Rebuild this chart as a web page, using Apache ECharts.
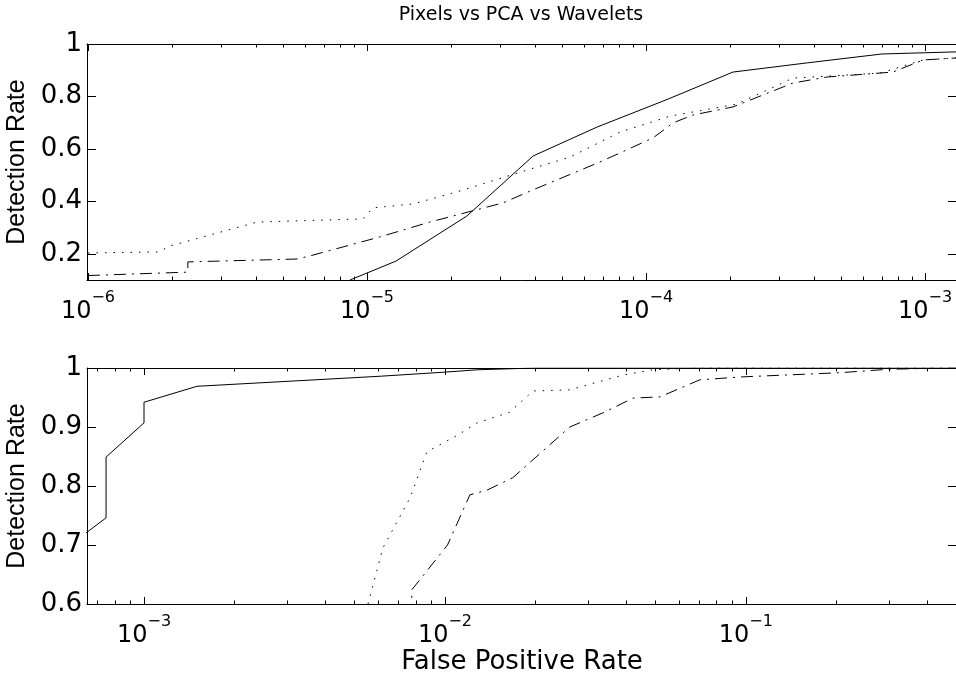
<!DOCTYPE html>
<html>
<head>
<meta charset="utf-8">
<script src="https://cdn.jsdelivr.net/npm/echarts@6/dist/echarts.min.js"></script>
<style>
html,body{margin:0;padding:0;background:#fff;}
#chart{width:956px;height:673px;}
</style>
</head>
<body>
<div id="chart"></div>
<script>
// ---------- DATA ----------
const titleText = 'Pixels vs PCA vs Wavelets';
const yLabelText = 'Detection Rate';
const xLabelText = 'False Positive Rate';

// top panel: [false positive rate, detection rate]
const topSolid = [[8.69e-6,0.100],[1.27e-5,0.172],[2.28e-5,0.344],[3.94e-5,0.573],[6.67e-5,0.683],[1.20e-4,0.790],[2.05e-4,0.893],[3.78e-4,0.928],[7.02e-4,0.962],[1.30e-3,0.970]];
const topDotted = [[1.0e-6,0.203],[1.79e-6,0.207],[1.97e-6,0.230],[4.04e-6,0.321],[9.68e-6,0.333],[1.05e-5,0.375],[1.46e-5,0.390],[2.10e-5,0.436],[3.74e-5,0.519],[5.35e-5,0.569],[8.07e-5,0.664],[1.22e-4,0.725],[2.12e-4,0.771],[3.36e-4,0.870],[6.90e-4,0.889],[9.84e-4,0.939],[1.30e-3,0.947]];
const topDashDot = [[1.0e-6,0.117],[2.28e-6,0.130],[2.28e-6,0.169],[5.61e-6,0.180],[6.25e-6,0.192],[1.11e-5,0.264],[1.68e-5,0.321],[3.07e-5,0.394],[3.84e-5,0.439],[6.84e-5,0.550],[1.06e-4,0.642],[1.25e-4,0.699],[1.47e-4,0.729],[2.05e-4,0.760],[3.36e-4,0.851],[4.45e-4,0.874],[7.67e-4,0.893],[9.84e-4,0.939],[1.30e-3,0.947]];

// bottom panel
const botSolid = [[6.40e-4,0.720],[7.48e-4,0.746],[7.48e-4,0.849],[1.0e-3,0.907],[1.0e-3,0.942],[1.50e-3,0.969],[6.08e-3,0.986],[1.0e-2,0.993],[1.28e-2,0.997],[2.0e-2,1.0],[0.5,1.0]];
const botDotted = [[5.55e-3,0.600],[6.22e-3,0.695],[7.66e-3,0.780],[8.71e-3,0.858],[1.10e-2,0.886],[1.28e-2,0.907],[1.64e-2,0.925],[1.96e-2,0.961],[2.60e-2,0.963],[3.90e-2,0.988],[4.91e-2,0.997],[7.0e-2,1.0],[0.5,1.0]];
const botDashDot = [[7.76e-3,0.580],[7.76e-3,0.624],[1.02e-2,0.700],[1.21e-2,0.785],[1.38e-2,0.793],[1.68e-2,0.814],[2.60e-2,0.900],[3.35e-2,0.924],[4.22e-2,0.949],[5.18e-2,0.951],[7.03e-2,0.980],[9.77e-2,0.985],[0.205,0.992],[0.30,0.998],[0.5,1.0]];

// axes
const topXRange = [0.992e-6, 1.302e-3];
const botXRange = [6.465e-4, 0.503];
const topYRange = [0.1, 1];
const botYRange = [0.6, 1];
const topXMajor = [1e-6, 1e-5, 1e-4, 1e-3];
const botXMajor = [1e-3, 1e-2, 1e-1];
const topYTicks = [0.2, 0.4, 0.6, 0.8, 1];
const botYTicks = [0.6, 0.7, 0.8, 0.9, 1];

// ---------- CHART ----------
const FONT = '"DejaVu Sans", Verdana, sans-serif';
const FONT_Y = '"Liberation Sans", Arial, sans-serif';
function minorTicks(range) {
  const out = [];
  const lo = Math.floor(Math.log10(range[0])), hi = Math.ceil(Math.log10(range[1]));
  for (let p = lo; p <= hi; p++) {
    for (let m = 2; m <= 9; m++) {
      const v = m * Math.pow(10, p);
      if (v >= range[0] && v <= range[1]) out.push(v);
    }
  }
  return out;
}
function expFmt(v) {
  const e = Math.round(Math.log10(v));
  return '{b|10}{e|' + (e < 0 ? '\u2212' + (-e) : e) + '}';
}
const richLab = {
  b: {fontSize: 24, fontFamily: FONT, color: '#000', lineHeight: 34, verticalAlign: 'bottom'},
  e: {fontSize: 16, fontFamily: FONT, color: '#000', lineHeight: 16, verticalAlign: 'top'}
};
const black = {color: '#000', width: 1};

function xAxesFor(g, range, majors, withName) {
  const base = {gridIndex: g, type: 'log', logBase: 10, min: range[0], max: range[1],
    splitLine: {show: false}, axisPointer: {show: false}};
  const minors = minorTicks(range);
  return [
    Object.assign({}, base, {position: 'bottom',
      axisLine: {show: true, onZero: false, lineStyle: black},
      axisTick: {show: true, inside: true, length: 7, lineStyle: black, customValues: majors},
      axisLabel: {show: true, customValues: majors, formatter: expFmt, margin: 10, rich: richLab},
      name: withName ? xLabelText : '', nameLocation: 'middle', nameGap: 44,
      nameTextStyle: {fontSize: 26, fontFamily: FONT, color: '#000'}}),
    Object.assign({}, base, {position: 'bottom',
      axisLine: {show: false, onZero: false},
      axisTick: {show: true, inside: true, length: 3.5, lineStyle: black, customValues: minors},
      axisLabel: {show: false}}),
    Object.assign({}, base, {position: 'top',
      axisLine: {show: true, onZero: false, lineStyle: black},
      axisTick: {show: true, inside: true, length: 7, lineStyle: black, customValues: majors},
      axisLabel: {show: false}}),
    Object.assign({}, base, {position: 'top',
      axisLine: {show: false, onZero: false},
      axisTick: {show: true, inside: true, length: 3.5, lineStyle: black, customValues: minors},
      axisLabel: {show: false}})
  ];
}
function yAxesFor(g, range, ticks) {
  const base = {gridIndex: g, type: 'value', min: range[0], max: range[1],
    splitLine: {show: false}, axisPointer: {show: false}};
  return [
    Object.assign({}, base, {position: 'left',
      axisLine: {show: true, onZero: false, lineStyle: black},
      axisTick: {show: true, inside: true, length: 9, lineStyle: black, customValues: ticks},
      axisLabel: {show: true, customValues: ticks, formatter: v => String(+v.toFixed(2)),
        margin: 5, fontSize: 26, fontFamily: FONT, color: '#000'},
      name: yLabelText, nameLocation: 'middle', nameRotate: 90, nameGap: 54,
      nameTextStyle: {fontSize: 25, fontFamily: FONT_Y, color: '#000'}}),
    Object.assign({}, base, {position: 'right',
      axisLine: {show: true, onZero: false, lineStyle: black},
      axisTick: {show: true, inside: true, length: 9, lineStyle: black, customValues: ticks},
      axisLabel: {show: false}})
  ];
}

function lineSeries(data, xi, yi, dash) {
  return {type: 'line', data: data, xAxisIndex: xi, yAxisIndex: yi, showSymbol: false, symbol: 'none',
    silent: true, animation: false, clip: true,
    lineStyle: {color: '#000', width: 1, type: dash}};
}
const DOT = [1.5, 7];
const DASHDOT = [12, 6, 2, 6];

const chart = echarts.init(document.getElementById('chart'), null, {renderer: 'canvas'});
chart.setOption({
  backgroundColor: '#fff',
  animation: false,
  grid: [
    {left: 87, top: 44, width: 870, height: 236, outerBoundsMode: 'none', containLabel: false},
    {left: 87, top: 368, width: 870, height: 236, outerBoundsMode: 'none', containLabel: false}
  ],
  xAxis: [].concat(xAxesFor(0, topXRange, topXMajor, false), xAxesFor(1, botXRange, botXMajor, true)),
  yAxis: [].concat(yAxesFor(0, topYRange, topYTicks), yAxesFor(1, botYRange, botYTicks)),
  graphic: [{type: 'text', x: 521, y: 15, style: {text: titleText, fontSize: 19, fontFamily: FONT,
    fill: '#000', textAlign: 'center', textVerticalAlign: 'middle'}}],
  series: [
    lineSeries(topSolid, 0, 0, 'solid'),
    lineSeries(topDotted, 0, 0, DOT),
    lineSeries(topDashDot, 0, 0, DASHDOT),
    lineSeries(botSolid, 4, 2, 'solid'),
    lineSeries(botDotted, 4, 2, DOT),
    lineSeries(botDashDot, 4, 2, DASHDOT)
  ]
});
</script>
</body>
</html>
